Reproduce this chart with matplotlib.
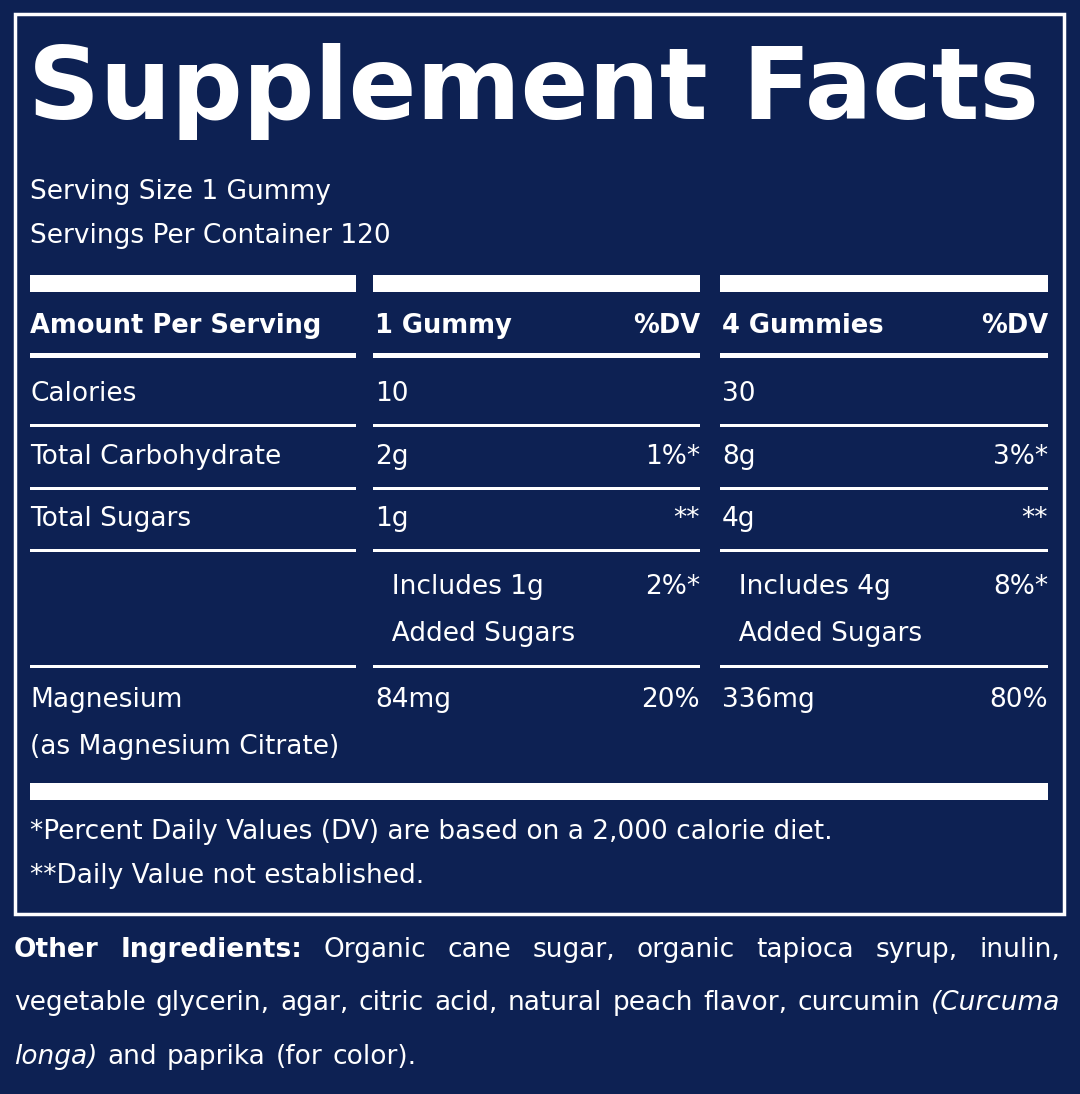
import matplotlib
matplotlib.use("Agg")
import matplotlib.pyplot as plt
from matplotlib.patches import Rectangle

title = "Supplement Facts"
serving = ["Serving Size 1 Gummy", "Servings Per Container 120"]
headers = ["Amount Per Serving", "1 Gummy", "%DV", "4 Gummies", "%DV"]
rows = [
    (["Calories"], ["10"], [""], ["30"], [""]),
    (["Total Carbohydrate"], ["2g"], ["1%*"], ["8g"], ["3%*"]),
    (["Total Sugars"], ["1g"], ["**"], ["4g"], ["**"]),
    ([""], ["  Includes 1g", "  Added Sugars"], ["2%*"], ["  Includes 4g", "  Added Sugars"], ["8%*"]),
    (["Magnesium", "(as Magnesium Citrate)"], ["84mg"], ["20%"], ["336mg"], ["80%"]),
]
footnotes = ["*Percent Daily Values (DV) are based on a 2,000 calorie diet.",
             "**Daily Value not established."]
ingredients = [
    [("Other", True), ("Ingredients:", True), ("Organic", False), ("cane", False), ("sugar,", False),
     ("organic", False), ("tapioca", False), ("syrup,", False), ("inulin,", False)],
    [("vegetable", False), ("glycerin,", False), ("agar,", False), ("citric", False), ("acid,", False),
     ("natural", False), ("peach", False), ("flavor,", False), ("curcumin", False), ("(Curcuma", "it")],
    [("longa)", "it"), ("and", False), ("paprika", False), ("(for", False), ("color).", False)],
]

NAVY = "#0d2153"
W = "white"
FAM = ["Liberation Sans Narrow", "DejaVu Sans"]

fig = plt.figure(figsize=(10.8, 10.94), dpi=100, facecolor=NAVY)
ax = fig.add_axes([0, 0, 1, 1])
ax.set_xlim(0, 1080); ax.set_ylim(1094, 0); ax.axis("off")
ax.set_facecolor(NAVY)

ax.add_patch(Rectangle((15, 14), 1049, 900, fill=False, ec=W, lw=2.5))
ax.text(28, 92, title, color=W, fontsize=72, fontweight="bold", family=["DejaVu Sans"], va="center")
fs = 19
for i, s in enumerate(serving):
    ax.text(30, 192 + 44 * i, s, color=W, fontsize=fs, family=FAM, va="center")

cols = [(30, 356), (373, 700), (720, 1048)]
for a, b in cols:
    ax.add_patch(Rectangle((a, 275), b - a, 17, color=W, lw=0))
    ax.add_patch(Rectangle((a, 353), b - a, 5, color=W, lw=0))
hfs = 18.5
ax.text(30, 326, headers[0], color=W, fontsize=hfs, fontweight="bold", family=FAM, va="center")
ax.text(375, 326, headers[1], color=W, fontsize=hfs, fontweight="bold", family=FAM, va="center")
ax.text(700, 326, headers[2], color=W, fontsize=hfs, fontweight="bold", family=FAM, va="center", ha="right")
ax.text(722, 326, headers[3], color=W, fontsize=hfs, fontweight="bold", family=FAM, va="center")
ax.text(1048, 326, headers[4], color=W, fontsize=hfs, fontweight="bold", family=FAM, va="center", ha="right")

row_y = [394, 457, 519, 587, 700]
line_y = [425, 488, 550, 666]
for (lab, v1, d1, v2, d2), y in zip(rows, row_y):
    for j, t in enumerate(lab):
        ax.text(30, y + 47 * j, t, color=W, fontsize=fs, family=FAM, va="center")
    for j, t in enumerate(v1):
        ax.text(375, y + 47 * j, t, color=W, fontsize=fs, family=FAM, va="center")
    for j, t in enumerate(v2):
        ax.text(722, y + 47 * j, t, color=W, fontsize=fs, family=FAM, va="center")
    ax.text(700, y, d1[0], color=W, fontsize=fs, family=FAM, va="center", ha="right")
    ax.text(1048, y, d2[0], color=W, fontsize=fs, family=FAM, va="center", ha="right")
for y in line_y:
    for a, b in cols:
        ax.add_patch(Rectangle((a, y - 1), b - a, 2.5, color=W, lw=0))
ax.add_patch(Rectangle((30, 783), 1018, 17, color=W, lw=0))
for i, s in enumerate(footnotes):
    ax.text(30, 832 + 44 * i, s, color=W, fontsize=fs, family=FAM, va="center")

fig.canvas.draw()
r = fig.canvas.get_renderer()
x0, x1 = 14, 1060
for li, (line, y) in enumerate(zip(ingredients, [950, 1003, 1057])):
    texts = []
    for w, st in line:
        t = ax.text(0, y, w, color=W, fontsize=fs, family=FAM, va="center",
                    fontweight="bold" if st is True else "normal",
                    fontstyle="italic" if st == "it" else "normal")
        texts.append(t)
    widths = [t.get_window_extent(r).width for t in texts]
    if li < 2:
        gap = max((x1 - x0 - sum(widths)) / (len(texts) - 1), 6)
    else:
        gap = 10
    x = x0
    for t, w in zip(texts, widths):
        t.set_x(x)
        x += w + gap

fig.savefig("out.png", dpi=100, facecolor=NAVY)
